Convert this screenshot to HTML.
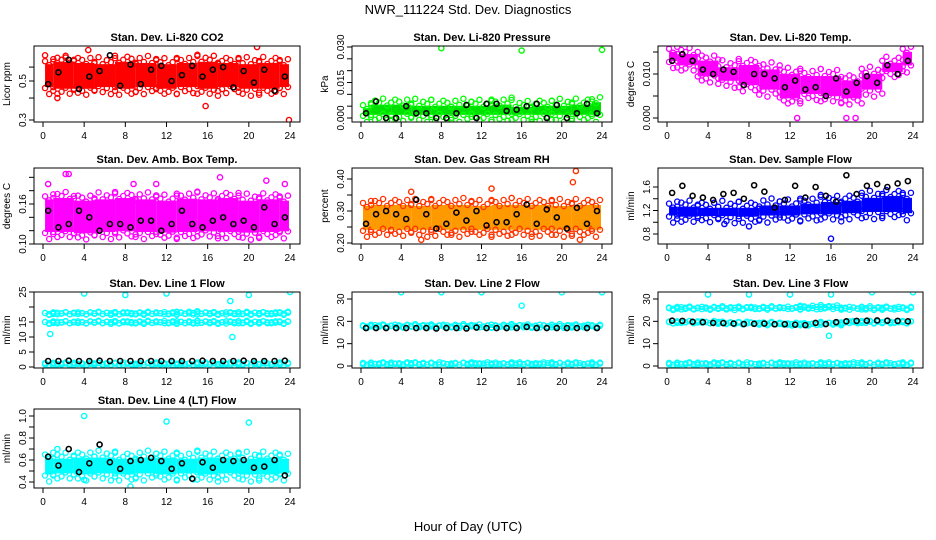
<!DOCTYPE html>
<html><head><meta charset="utf-8">
<style>
html,body{margin:0;padding:0;background:#fff;}
svg{display:block;font-family:"Liberation Sans",Arial,sans-serif;}
</style></head>
<body>
<svg id="chart" width="936" height="540" viewBox="0 0 936 540" xmlns="http://www.w3.org/2000/svg">
<rect width="936" height="540" fill="#fff"/>
<text x="468" y="14" text-anchor="middle" font-size="13">NWR_111224 Std. Dev. Diagnostics</text>
<text x="468" y="531" text-anchor="middle" font-size="13">Hour of Day (UTC)</text>
</svg>
<script>
// ---- data (band edges every 2 h: hours 0,2,...,24) ----
const xTicks = [0,4,8,12,16,20,24];

const co2Lo = [0.45,0.44,0.44,0.45,0.44,0.45,0.44,0.45,0.44,0.45,0.44,0.44,0.45];
const co2Hi = [0.64,0.66,0.65,0.64,0.66,0.65,0.64,0.65,0.66,0.65,0.64,0.65,0.64];
const co2Black = [0.48,0.56,0.66,0.45,0.53,0.57,0.70,0.47,0.62,0.48,0.58,0.61,0.50,0.54,0.61,0.53,0.58,0.60,0.46,0.57,0.49,0.58,0.44,0.53];
const co2OutX = [1.4,4.4,15.8,20.8,23.9,0.2,2.2];
const co2OutY = [0.40,0.75,0.36,0.78,0.30,0.70,0.68];

const presLo = [0.0005,0.0005,0.0005,0.0005,0.0005,0.0005,0.0005,0.0005,0.0005,0.0005,0.0005,0.0005,0.0005];
const presHi = [0.005,0.0065,0.0065,0.006,0.006,0.006,0.006,0.0065,0.0055,0.006,0.006,0.0065,0.0075];
const presBlack = [0.002,0.007,0.0,0.0,0.005,0.002,0.002,0.0,0.0,0.002,0.0055,0.0,0.006,0.006,0.003,0.0035,0.005,0.006,0.0,0.0055,0.0,0.002,0.006,0.002];
const presOutX = [8,16,24];
const presOutY = [0.0295,0.0285,0.0288];

const tempLo = [0.0125,0.0115,0.009,0.008,0.007,0.006,0.004,0.005,0.0045,0.004,0.006,0.010,0.0115];
const tempHi = [0.0155,0.015,0.0135,0.012,0.0125,0.0115,0.0105,0.010,0.010,0.009,0.0105,0.013,0.0155];
const tempBlack = [0.013,0.0145,0.013,0.011,0.010,0.011,0.0105,0.0075,0.010,0.010,0.009,0.007,0.0085,0.0065,0.007,0.005,0.009,0.006,0.008,0.0095,0.008,0.012,0.010,0.013];
const tempOutX = [12.7,17.5,18.4];
const tempOutY = [0,0,0];

const boxLo = [0.115,0.115,0.113,0.115,0.116,0.115,0.114,0.115,0.116,0.115,0.114,0.115,0.116];
const boxHi = [0.170,0.172,0.168,0.170,0.172,0.170,0.168,0.171,0.170,0.172,0.168,0.170,0.168];
const boxBlack = [0.15,0.125,0.13,0.15,0.14,0.12,0.13,0.13,0.125,0.135,0.135,0.12,0.13,0.15,0.13,0.125,0.135,0.14,0.13,0.135,0.125,0.155,0.13,0.14];
const boxOutX = [0.5,2.2,2.5,8.8,11,17.2,21.7,23.5];
const boxOutY = [0.19,0.205,0.205,0.19,0.19,0.20,0.195,0.19];

const rhLo = [0.235,0.235,0.235,0.235,0.235,0.235,0.235,0.235,0.235,0.235,0.235,0.235,0.235];
const rhHi = [0.322,0.325,0.325,0.322,0.325,0.325,0.322,0.325,0.325,0.325,0.322,0.325,0.325];
const rhBlack = [0.26,0.29,0.30,0.29,0.275,0.335,0.29,0.245,0.26,0.295,0.27,0.30,0.255,0.265,0.265,0.29,0.32,0.26,0.305,0.28,0.245,0.31,0.26,0.30];
const rhOutX = [6,21.4,21.1,21.8,5,13];
const rhOutY = [0.21,0.425,0.39,0.21,0.36,0.37];

const flowLo = [1.08,1.06,1.07,1.07,1.06,1.08,1.08,1.10,1.10,1.12,1.14,1.14,1.12];
const flowHi = [1.30,1.30,1.28,1.28,1.28,1.32,1.32,1.35,1.38,1.40,1.45,1.48,1.45];
const flowBlack = [1.5,1.62,1.45,1.42,1.38,1.48,1.50,1.40,1.63,1.52,1.25,1.38,1.62,1.42,1.60,1.45,1.35,1.80,1.48,1.62,1.65,1.60,1.66,1.70];
const flowOutX = [16,5.6,8];
const flowOutY = [0.72,0.97,0.93];

const l1aLo = [14.2,14.2,14.2,14.2,14.2,14.2,14.2,14.2,14.2,14.2,14.2,14.2,14.2];
const l1aHi = [15.6,15.6,15.6,15.6,15.6,15.6,15.6,15.6,15.6,15.6,15.6,15.6,15.6];
const l1bLo = [17.2,17.2,17.2,17.2,17.2,17.2,17.2,17.2,17.2,17.2,17.2,17.2,17.2];
const l1bHi = [18.6,18.6,18.6,18.6,18.6,18.6,18.6,18.8,18.6,18.6,18.6,18.6,18.8];
const l1cLo = [0.5,0.5,0.5,0.5,0.5,0.5,0.5,0.5,0.5,0.5,0.5,0.5,0.5];
const l1cHi = [1.5,1.5,1.5,1.5,1.5,1.5,1.5,1.5,1.5,1.5,1.5,1.5,1.5];
const l1Black = [2.0,2.0,2.1,2.0,2.0,2.1,2.0,2.0,2.0,2.0,2.0,2.0,2.0,2.0,2.0,2.1,2.0,2.0,2.0,2.1,2.0,2.0,2.0,2.1];
const l1OutX = [4,8,12,20,24,18.2,18.4,0.7];
const l1OutY = [24.5,24,24.5,24,25,22,10,11];

const l2aLo = [16.8,16.8,16.8,16.8,16.8,16.8,16.8,16.8,16.8,16.8,16.8,16.8,16.8];
const l2aHi = [19,19,19,19,19,19,19,19,19,19,19,19,19];
const l2bLo = [0.3,0.3,0.3,0.3,0.3,0.3,0.3,0.3,0.3,0.3,0.3,0.3,0.3];
const l2bHi = [1.6,1.6,1.6,1.6,1.6,1.6,1.6,1.6,1.6,1.6,1.6,1.6,1.6];
const l2Black = [17,17,17,17,17,17,17,16.8,17,17,16.8,17.2,17,17,17,17,17.5,17,17,17,17,17,17,17];
const l2OutX = [4,8,12,16,20,24];
const l2OutY = [33,33,33,27,33,33];

const l3aLo = [24.8,24.8,24.8,24.8,25,25,25,25,25,24.8,24.8,24.8,24.8];
const l3aHi = [27,27,27,27,27,27,27,27.5,27.5,27,27,27,27];
const l3bLo = [18.8,18.8,18.8,18.5,18.5,18,18,18,18,18.8,18.8,18.8,18.8];
const l3bHi = [20.5,20.5,20.5,20,20,20,19.5,19.5,20,20.5,20.5,20.5,20.5];
const l3cLo = [0.3,0.3,0.3,0.3,0.3,0.3,0.3,0.3,0.3,0.3,0.3,0.3,0.3];
const l3cHi = [1.6,1.6,1.6,1.6,1.6,1.6,1.6,1.6,1.6,1.6,1.6,1.6,1.6];
const l3Black = [20.3,20.2,19.8,19.6,19.3,19.2,19.0,18.8,18.9,19.0,18.7,18.7,18.5,18.3,19.3,18.8,19.6,20.0,20.2,20.3,20.4,20.3,20.2,20.0];
const l3OutX = [4,8,12,16,20,24,15.8];
const l3OutY = [32,32,32,32,33,33,13.5];

const l4Lo = [0.45,0.46,0.45,0.46,0.45,0.46,0.45,0.46,0.45,0.46,0.45,0.45,0.46];
const l4Hi = [0.64,0.63,0.64,0.64,0.63,0.64,0.64,0.63,0.64,0.64,0.63,0.64,0.63];
const l4Black = [0.63,0.55,0.70,0.49,0.57,0.74,0.58,0.52,0.59,0.60,0.62,0.59,0.52,0.57,0.43,0.58,0.53,0.60,0.59,0.60,0.53,0.54,0.60,0.46];
const l4OutX = [4,12,20,4,8.5,1.4];
const l4OutY = [1.0,0.95,0.94,0.42,0.36,0.70];

// ---- tick arrays ----
const co2Ticks=[0.3,0.4,0.5,0.6], co2Labels=['0.3','','0.5',''];
const presTicks=[0,0.005,0.01,0.015,0.02,0.025,0.03], presLabels=['0.000','','','0.015','','','0.030'];
const tempTicks=[0,0.005,0.01,0.015], tempLabels=['0.000','','0.010',''];
const boxTicks=[0.10,0.12,0.14,0.16,0.18,0.20], boxLabels=['0.10','','','0.16','',''];
const rhTicks=[0.20,0.25,0.30,0.35,0.40], rhLabels=['0.20','','0.30','','0.40'];
const flowTicks=[0.8,1.0,1.2,1.4,1.6], flowLabels=['0.8','','1.2','','1.6'];
const l1Ticks=[0,5,10,15,20,25], l1Labels=['0','5','10','15','','25'];
const l23Ticks=[0,10,20,30], l23Labels=['0','10','20','30'];
const l4Ticks=[0.4,0.5,0.6,0.7,0.8,0.9,1.0], l4Labels=['0.4','','0.6','','0.8','','1.0'];

// ---- layout ----
const colBox=[[34,300],[352,612],[658,923]];
const rowBox=[[46,122],[168,244],[292,368],[409,488]];
const jit=[4,0,6,2,8,1,5,3,7,0,3,6];

const panels=[
 {id:'co2',title:'Stan. Dev. Li-820 CO2',ylab:'Licor ppm',c:0,r:0,log:true,a:[0.3,120,0.5,81],ticks:co2Ticks,labels:co2Labels,bands:[[co2Lo,co2Hi]],black:co2Black,ox:co2OutX,oy:co2OutY,color:'#ff0000',edge:'#ff0000'},
 {id:'pressure',title:'Stan. Dev. Li-820 Pressure',ylab:'kPa',c:1,r:0,a:[0,118,0.03,47],ticks:presTicks,labels:presLabels,bands:[[presLo,presHi]],black:presBlack,ox:presOutX,oy:presOutY,color:'#00e000',edge:'#00ff00'},
 {id:'temp',title:'Stan. Dev. Li-820 Temp.',ylab:'degrees C',c:2,r:0,a:[0,118,0.01,74],ticks:tempTicks,labels:tempLabels,bands:[[tempLo,tempHi]],black:tempBlack,ox:tempOutX,oy:tempOutY,color:'#ff00ff',edge:'#ff00ff'},
 {id:'amb-box-temp',title:'Stan. Dev. Amb. Box Temp.',ylab:'degrees C',c:0,r:1,a:[0.10,244,0.16,204],ticks:boxTicks,labels:boxLabels,bands:[[boxLo,boxHi]],black:boxBlack,ox:boxOutX,oy:boxOutY,color:'#ff00ff',edge:'#ff00ff'},
 {id:'gas-rh',title:'Stan. Dev. Gas Stream RH',ylab:'percent',c:1,r:1,a:[0.20,243,0.40,179],ticks:rhTicks,labels:rhLabels,bands:[[rhLo,rhHi]],black:rhBlack,ox:rhOutX,oy:rhOutY,color:'#ff9900',edge:'#ff3300'},
 {id:'sample-flow',title:'Stan. Dev. Sample Flow',ylab:'ml/min',c:2,r:1,a:[0.8,234,1.6,187],ticks:flowTicks,labels:flowLabels,bands:[[flowLo,flowHi]],black:flowBlack,ox:flowOutX,oy:flowOutY,color:'#0000ff',edge:'#0000ff'},
 {id:'line1',title:'Stan. Dev. Line 1 Flow',ylab:'ml/min',c:0,r:2,a:[0,367,25,292],ticks:l1Ticks,labels:l1Labels,bands:[[l1aLo,l1aHi],[l1bLo,l1bHi],[l1cLo,l1cHi]],black:l1Black,ox:l1OutX,oy:l1OutY,color:'#00ffff',edge:'#00ffff',small:true},
 {id:'line2',title:'Stan. Dev. Line 2 Flow',ylab:'ml/min',c:1,r:2,a:[0,366,30,299],ticks:l23Ticks,labels:l23Labels,bands:[[l2aLo,l2aHi],[l2bLo,l2bHi]],black:l2Black,ox:l2OutX,oy:l2OutY,color:'#00ffff',edge:'#00ffff',small:true},
 {id:'line3',title:'Stan. Dev. Line 3 Flow',ylab:'ml/min',c:2,r:2,a:[0,366,30,299],ticks:l23Ticks,labels:l23Labels,bands:[[l3aLo,l3aHi],[l3bLo,l3bHi],[l3cLo,l3cHi]],black:l3Black,ox:l3OutX,oy:l3OutY,color:'#00ffff',edge:'#00ffff',small:true},
 {id:'line4',title:'Stan. Dev. Line 4 (LT) Flow',ylab:'ml/min',c:0,r:3,a:[0.4,482,1.0,416],ticks:l4Ticks,labels:l4Labels,bands:[[l4Lo,l4Hi]],black:l4Black,ox:l4OutX,oy:l4OutY,color:'#00ffff',edge:'#00ffff'}
];

const svg=document.getElementById('chart');
const NS='http://www.w3.org/2000/svg';
function mk(tag,attrs,parent){const e=document.createElementNS(NS,tag);for(const k in attrs)e.setAttribute(k,attrs[k]);parent.appendChild(e);return e;}

panels.forEach(p=>{
  const L=colBox[p.c][0],R=colBox[p.c][1],T=rowBox[p.r][0],B=rowBox[p.r][1];
  const g=mk('g',{},svg);
  
  
  const xs=v=>L+9+v/24*(R-L-19);
  const tf=v=>p.log?Math.log(v):v;
  const k=(p.a[3]-p.a[1])/(tf(p.a[2])-tf(p.a[0]));
  const ys=v=>p.a[1]+(tf(Math.max(v,p.log?1e-6:-1e9))-tf(p.a[0]))*k;
  const clip='clip-'+p.id;
  const cp=mk('clipPath',{id:clip},g);
  mk('rect',{x:L,y:T,width:R-L,height:B-T},cp);
  const pg=mk('g',{'clip-path':'url(#'+clip+')'},g);
  const jf=p.small?0.3:1;
  p.bands.forEach((b)=>{
    const lo=b[0],hi=b[1];
    for(let i=0;i<lo.length;i++){
      const h=i*2, x0=Math.max(0.2,h-1), x1=Math.min(23.9,h+1);
      const r=mk('rect',{x:xs(x0),y:ys(hi[i])+2,width:xs(x1)-xs(x0),height:Math.max(1,ys(lo[i])-ys(hi[i])-4),fill:p.color},pg);
      
      
      let n=0;
      for(let x=x0;x<=x1+1e-9;x+=0.4){
        const o1=jit[(i*5+n)%jit.length]*jf, o2=jit[(i*7+n+3)%jit.length]*jf; n++;
        const c1=mk('circle',{cx:xs(x),cy:ys(hi[i])-o1+3,r:2.6,fill:'none',stroke:p.edge,'stroke-width':1.3},pg);
        
        
        const c2=mk('circle',{cx:xs(x),cy:ys(lo[i])+o2-3,r:2.6,fill:'none',stroke:p.edge,'stroke-width':1.3},pg);
        
        
      }
    }
  });
  p.ox.forEach((x,i)=>{
    const c=mk('circle',{cx:xs(x),cy:ys(p.oy[i]),r:2.6,fill:'none',stroke:p.edge,'stroke-width':1.4},pg);
    
    
  });
  p.black.forEach((v,i)=>{
    const c=mk('circle',{cx:xs(i+0.5),cy:ys(v),r:2.5,fill:'none',stroke:'#000','stroke-width':1.6},pg);
    
    
  });
  const fr=mk('rect',{x:L,y:T,width:R-L,height:B-T,fill:'none',stroke:'#000','stroke-width':1},g);
  
  
  const t=mk('text',{x:(L+R)/2,y:T-5,'text-anchor':'middle','font-size':11,'font-weight':'bold'},g);
  t.textContent=p.title;
  
  
  mk('line',{x1:xs(0),x2:xs(24),y1:B,y2:B,stroke:'#000'},g);
  xTicks.forEach(v=>{
    mk('line',{x1:xs(v),x2:xs(v),y1:B,y2:B+5,stroke:'#000'},g);
    const lt=mk('text',{x:xs(v),y:B+17,'text-anchor':'middle','font-size':10},g);
    lt.textContent=v;
    
    
  });
  mk('line',{x1:L,x2:L,y1:ys(p.ticks[0]),y2:ys(p.ticks[p.ticks.length-1]),stroke:'#000'},g);
  p.ticks.forEach((v,i)=>{
    const y=ys(v);
    mk('line',{x1:L-5,x2:L,y1:y,y2:y,stroke:'#000'},g);
    if(p.labels[i]){
      const lt=mk('text',{x:L-8,y:y,'text-anchor':'middle','font-size':10,transform:'rotate(-90 '+(L-8)+' '+y+')'},g);
      lt.textContent=p.labels[i];
      
      
    }
  });
  const yl=mk('text',{x:L-24,y:(T+B)/2,'text-anchor':'middle','font-size':10,transform:'rotate(-90 '+(L-24)+' '+((T+B)/2)+')'},g);
  yl.textContent=p.ylab;
  
  
});
</script>
</body></html>
